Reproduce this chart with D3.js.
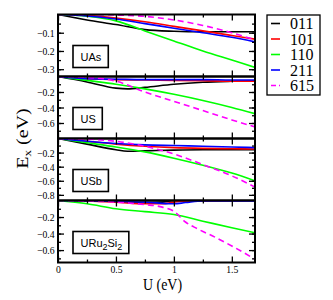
<!DOCTYPE html>
<html>
<head>
<meta charset="utf-8">
<script src="https://cdn.jsdelivr.net/npm/d3@7"></script>
<style>
  body { margin: 0; background: #fff; }
  svg { display: block; }
</style>
</head>
<body>
<script>
// panel names, y-axis lower limits and tick values
const panelNames = ["UAs", "US", "USb", "URu2Si2"]
const yMins = [-0.34, -0.8, -0.88, -0.75]
const majorTicks = [[-0.1, -0.2, -0.3], [-0.2, -0.4, -0.6], [-0.2, -0.4, -0.6, -0.8], [-0.2, -0.4, -0.6]]
const minorStep = [0.05, 0.1, 0.1, 0.1]
const xTicks = [0, 0.5, 1, 1.5]
const xMinor = [0.25, 0.75, 1.25]

const seriesNames = ["011", "101", "110", "211", "615"]
const seriesColors = ["#000000", "#ff0000", "#00ff00", "#0000ff", "#ff00ff"]

// [U, Ex]
const uas011 = [[0,0],[0.25,-0.03],[0.5,-0.055],[0.75,-0.083],[1.0,-0.092],[1.25,-0.095],[1.5,-0.095],[1.7,-0.095]]
const uas101 = [[0,0],[0.25,-0.005],[0.5,-0.02],[0.75,-0.04],[1.0,-0.065],[1.25,-0.09],[1.5,-0.115],[1.7,-0.135]]
const uas110 = [[0,0],[0.25,-0.01],[0.5,-0.035],[0.75,-0.09],[1.0,-0.145],[1.25,-0.2],[1.5,-0.25],[1.7,-0.29]]
const uas211 = [[0,0],[0.25,-0.008],[0.5,-0.025],[0.75,-0.05],[1.0,-0.075],[1.25,-0.1],[1.5,-0.125],[1.7,-0.15]]
const uas615 = [[0,0],[0.25,0],[0.5,-0.003],[0.75,-0.01],[1.0,-0.03],[1.25,-0.06],[1.5,-0.1],[1.7,-0.14]]

const us011 = [[0,0],[0.25,-0.07],[0.5,-0.15],[0.6,-0.16],[0.75,-0.14],[1.0,-0.1],[1.25,-0.075],[1.5,-0.062],[1.7,-0.055]]
const us101 = [[0,0],[0.25,-0.03],[0.5,-0.04],[0.75,-0.045],[1.0,-0.05],[1.25,-0.055],[1.5,-0.06],[1.7,-0.06]]
const us110 = [[0,0],[0.25,-0.05],[0.5,-0.1],[0.75,-0.16],[1.0,-0.23],[1.25,-0.31],[1.5,-0.4],[1.7,-0.48]]
const us211 = [[0,0],[0.25,-0.03],[0.5,-0.035],[0.75,-0.04],[1.0,-0.04],[1.25,-0.04],[1.5,-0.045],[1.7,-0.045]]
const us615 = [[0,0],[0.25,-0.01],[0.5,-0.06],[0.75,-0.2],[1.0,-0.32],[1.25,-0.44],[1.5,-0.56],[1.7,-0.65]]

const usb011 = [[0,0],[0.25,-0.08],[0.5,-0.16],[0.6,-0.18],[0.75,-0.175],[1.0,-0.165],[1.25,-0.16],[1.5,-0.16],[1.7,-0.16]]
const usb101 = [[0,0],[0.25,-0.04],[0.5,-0.08],[0.75,-0.11],[1.0,-0.13],[1.25,-0.14],[1.5,-0.145],[1.7,-0.15]]
const usb110 = [[0,0],[0.25,-0.06],[0.5,-0.12],[0.75,-0.19],[1.0,-0.28],[1.25,-0.38],[1.5,-0.49],[1.7,-0.6]]
const usb211 = [[0,0],[0.25,-0.04],[0.5,-0.07],[0.75,-0.09],[1.0,-0.1],[1.25,-0.11],[1.5,-0.12],[1.7,-0.13]]
const usb615 = [[0,0],[0.25,-0.01],[0.5,-0.04],[0.75,-0.11],[1.0,-0.22],[1.25,-0.37],[1.5,-0.53],[1.7,-0.69]]

const uru011 = [[0,0],[0.5,-0.01],[0.75,-0.03],[0.9,-0.02],[1.0,0],[1.7,0]]
const uru101 = [[0,0],[0.5,-0.02],[0.75,-0.04],[0.9,-0.04],[1.0,-0.02],[1.1,-0.005],[1.7,0]]
const uru110 = [[0,0],[0.25,-0.04],[0.5,-0.1],[0.75,-0.135],[1.0,-0.17],[1.25,-0.25],[1.5,-0.33],[1.7,-0.39]]
const uru211 = [[0,0],[0.5,-0.01],[0.75,-0.02],[1.0,-0.04],[1.1,-0.025],[1.25,-0.005],[1.7,-0.005]]
const uru615 = [[0,0],[0.5,-0.02],[0.75,-0.05],[0.9,-0.08],[1.0,-0.13],[1.1,-0.26],[1.2,-0.34],[1.35,-0.44],[1.5,-0.55],[1.7,-0.71]]

const panelData = [
  [uas011, uas101, uas110, uas211, uas615],
  [us011, us101, us110, us211, us615],
  [usb011, usb101, usb110, usb211, usb615],
  [uru011, uru101, uru110, uru211, uru615]
]

const width = 333, height = 300
const margin = {top: 14.5, left: 58}
const plotW = 197, panelH = 62
const serif = "Liberation Serif, Times New Roman, serif"

const svg = d3.select("body").append("svg")
  .attr("width", width)
  .attr("height", height)

const x = d3.scaleLinear().domain([0, 1.7]).range([0, plotW])

const line = d3.line()
  .x(d => x(d[0]))
  .curve(d3.curveMonotoneX)

panelNames.forEach(function(name, p) {
  const g = svg.append("g")
    .attr("transform", `translate(${margin.left}, ${margin.top + p * panelH})`)

  const y = d3.scaleLinear().domain([yMins[p], 0]).range([panelH, 0])
  line.y(d => y(d[1]))

  svg.append("clipPath").attr("id", "clip" + p)
    .append("rect").attr("width", plotW).attr("height", panelH)

  // curves
  const curves = g.append("g").attr("clip-path", `url(#clip${p})`)
  panelData[p].forEach(function(s, i) {
    curves.append("path")
      .attr("d", line(s))
      .attr("fill", "none")
      .attr("stroke", seriesColors[i])
      .attr("stroke-width", 1.6)
      .attr("stroke-dasharray", i == 4 ? "6,4" : null)
  })

  // minor ticks
  const minors = d3.range(-minorStep[p], yMins[p], -minorStep[p])
  g.append("g").call(d3.axisLeft(y).tickValues(minors).tickSizeInner(-3).tickSizeOuter(0).tickFormat(""))
  g.append("g").attr("transform", `translate(${plotW},0)`)
    .call(d3.axisRight(y).tickValues(minors).tickSizeInner(-3).tickSizeOuter(0).tickFormat(""))
  g.append("g").attr("transform", `translate(0,${panelH})`)
    .call(d3.axisBottom(x).tickValues(xMinor).tickSizeInner(-3).tickSizeOuter(0).tickFormat(""))
  g.append("g")
    .call(d3.axisTop(x).tickValues(xMinor).tickSizeInner(-3).tickSizeOuter(0).tickFormat(""))

  // major ticks
  g.append("g")
    .call(d3.axisLeft(y).tickValues(majorTicks[p]).tickSizeInner(-6).tickSizeOuter(0).tickPadding(4).tickFormat(d3.format(".1f")))
  g.append("g").attr("transform", `translate(${plotW},0)`)
    .call(d3.axisRight(y).tickValues(majorTicks[p]).tickSizeInner(-6).tickSizeOuter(0).tickFormat(""))
  g.append("g").attr("transform", `translate(0,${panelH})`)
    .call(d3.axisBottom(x).tickValues(xTicks).tickSizeInner(-6).tickSizeOuter(0).tickPadding(3)
      .tickFormat(p == 3 ? d3.format("") : ""))
  g.append("g")
    .call(d3.axisTop(x).tickValues(xTicks).tickSizeInner(-6).tickSizeOuter(0).tickFormat(""))

  g.selectAll(".domain").remove()
  g.selectAll(".tick line").attr("stroke", "#000").attr("stroke-width", 1.3)

  // frame
  g.append("rect")
    .attr("width", plotW).attr("height", panelH)
    .attr("fill", "none").attr("stroke", "#000").attr("stroke-width", 2)

  // compound label
  const box = g.append("g").attr("transform", "translate(15, 46)")
  const label = box.append("text")
    .attr("x", 7.5).attr("y", 0)
    .style("font-family", "Liberation Sans, Arial, sans-serif")
    .style("font-size", "11px")
  if (name == "URu2Si2") {
    label.append("tspan").text("URu")
    label.append("tspan").text("2").attr("dy", 3).style("font-size", "9px")
    label.append("tspan").text("Si").attr("dy", -3)
    label.append("tspan").text("2").attr("dy", 3).style("font-size", "9px")
  } else {
    label.text(name)
  }
  const bb = label.node().getBBox()
  box.insert("rect", "text")
    .attr("x", 0).attr("y", -15)
    .attr("width", bb.width + 14).attr("height", 22)
    .attr("fill", "#fff").attr("stroke", "#000").attr("stroke-width", 1.6)
})

svg.selectAll(".tick text")
  .style("font-family", serif)
  .style("font-size", "11px")
  .attr("fill", "#000")
  .attr("transform", "scale(0.88,1)")

// axis titles
const yTitle = svg.append("text")
  .attr("transform", `translate(28, ${margin.top + 2 * panelH}) scale(0.8,1) rotate(-90)`)
  .attr("text-anchor", "middle")
  .style("font-family", serif)
  .style("font-size", "20px")
yTitle.append("tspan").text("E")
yTitle.append("tspan").text("x").attr("dy", 4).style("font-size", "13px")
yTitle.append("tspan").text(" (eV)").attr("dy", -4)

svg.append("text")
  .text("U (eV)")
  .attr("transform", `translate(${margin.left + plotW / 2 + 6}, 289.5) scale(0.82,1)`)
  .attr("text-anchor", "middle")
  .style("font-family", serif)
  .style("font-size", "17px")

// legend
const legend = svg.append("g").attr("transform", "translate(267, 15)")
legend.append("rect")
  .attr("width", 53).attr("height", 80)
  .attr("fill", "#fff").attr("stroke", "#000").attr("stroke-width", 1.3)
seriesNames.forEach(function(s, i) {
  const yy = 8.5 + i * 15.5
  legend.append("line")
    .attr("x1", 4).attr("x2", 13)
    .attr("y1", yy).attr("y2", yy)
    .attr("stroke", seriesColors[i])
    .attr("stroke-width", 1.6)
    .attr("stroke-dasharray", i == 4 ? "5,3" : null)
  legend.append("text")
    .text(s)
    .attr("x", 23).attr("y", yy)
    .attr("dy", "0.35em")
    .style("font-family", serif)
    .style("font-size", "16px")
})
</script>
</body>
</html>
